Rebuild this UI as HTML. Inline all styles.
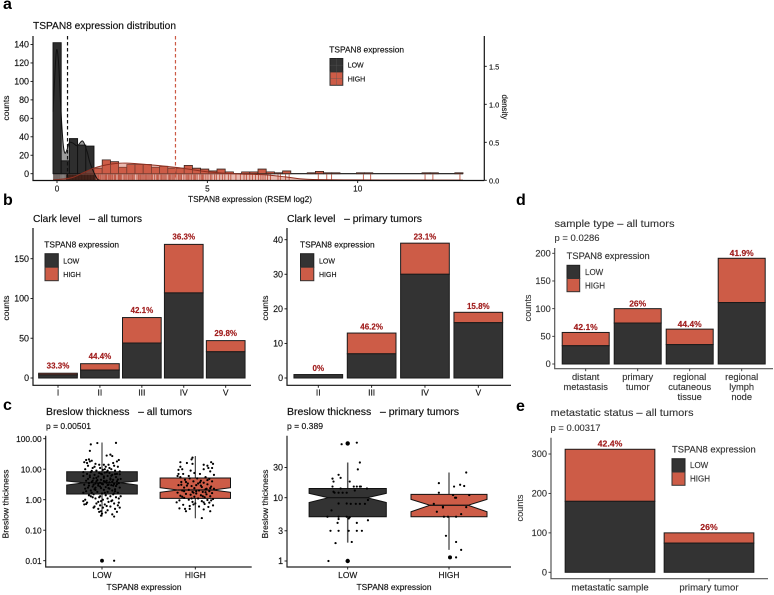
<!DOCTYPE html>
<html lang="en">
<head>
<meta charset="utf-8">
<title>TSPAN8 expression figure</title>
<style>
html,body{margin:0;padding:0;background:#fff;}
#chart{display:block;width:774px;height:595px;font-family:"Liberation Sans",sans-serif;fill:#111;}
.t{font-size:10.2px;fill:#111;stroke:#111;stroke-width:.18px;}
.s{font-size:8.4px;fill:#111;stroke:#111;stroke-width:.15px;}
.h{font-size:10.5px;fill:#333;stroke:#333;stroke-width:.12px;}
.hs{font-size:8.9px;fill:#333;stroke:#333;stroke-width:.1px;}
.letter{font-size:16px;font-weight:bold;fill:#000;}
</style>
</head>
<body>
<svg id="chart" xmlns="http://www.w3.org/2000/svg" width="774" height="595" viewBox="0 0 774 595">
<rect x="0" y="0" width="774" height="595" fill="#fff"/>
<text class="letter" x="3" y="9">a</text>
<text class="letter" x="3" y="205">b</text>
<text class="letter" x="3" y="410">c</text>
<text class="letter" x="516" y="205">d</text>
<text class="letter" x="516" y="411">e</text>

<text class="t" x="33" y="29" textLength="143" lengthAdjust="spacingAndGlyphs">TSPAN8 expression distribution</text>
<text class="s" transform="translate(9 108) rotate(-90)" text-anchor="middle" textLength="25" lengthAdjust="spacingAndGlyphs">counts</text>
<text class="s" transform="translate(502 107) rotate(90)" text-anchor="middle" textLength="25" lengthAdjust="spacingAndGlyphs">density</text>
<text class="s" x="188" y="202" textLength="124" lengthAdjust="spacingAndGlyphs">TSPAN8 expression (RSEM log2)</text>

<text class="t" x="33" y="222" textLength="109" lengthAdjust="spacingAndGlyphs" xml:space="preserve">Clark level   – all tumors</text>
<text class="s" transform="translate(9 308) rotate(-90)" text-anchor="middle" textLength="25" lengthAdjust="spacingAndGlyphs">counts</text>
<text class="t" x="287" y="222" textLength="135" lengthAdjust="spacingAndGlyphs" xml:space="preserve">Clark level   – primary tumors</text>
<text class="s" transform="translate(268 308) rotate(-90)" text-anchor="middle" textLength="25" lengthAdjust="spacingAndGlyphs">counts</text>

<text class="t" x="46" y="415" textLength="146" lengthAdjust="spacingAndGlyphs" xml:space="preserve">Breslow thickness   – all tumors</text>
<text class="s" x="46" y="429" textLength="45" lengthAdjust="spacingAndGlyphs">p = 0.00501</text>
<text class="s" transform="translate(8.5 504) rotate(-90)" text-anchor="middle" textLength="69" lengthAdjust="spacingAndGlyphs">Breslow thickness</text>
<text class="s" x="144" y="590" text-anchor="middle" textLength="75" lengthAdjust="spacingAndGlyphs">TSPAN8 expression</text>
<text class="t" x="287" y="415" textLength="172" lengthAdjust="spacingAndGlyphs" xml:space="preserve">Breslow thickness   – primary tumors</text>
<text class="s" x="287" y="429" textLength="36" lengthAdjust="spacingAndGlyphs">p = 0.389</text>
<text class="s" transform="translate(268 504) rotate(-90)" text-anchor="middle" textLength="69" lengthAdjust="spacingAndGlyphs">Breslow thickness</text>
<text class="s" x="394" y="590" text-anchor="middle" textLength="75" lengthAdjust="spacingAndGlyphs">TSPAN8 expression</text>

<text class="h" x="554.5" y="227" textLength="120" lengthAdjust="spacingAndGlyphs">sample type – all tumors</text>
<text class="hs" x="554.5" y="241" textLength="45" lengthAdjust="spacingAndGlyphs">p = 0.0286</text>
<text class="hs" transform="translate(531 308) rotate(-90)" text-anchor="middle" textLength="27" lengthAdjust="spacingAndGlyphs">counts</text>
<text class="h" x="550.5" y="416" textLength="143" lengthAdjust="spacingAndGlyphs">metastatic status – all tumors</text>
<text class="hs" x="550.5" y="431" textLength="50" lengthAdjust="spacingAndGlyphs">p = 0.00317</text>
<text class="hs" transform="translate(523 508) rotate(-90)" text-anchor="middle" textLength="27" lengthAdjust="spacingAndGlyphs">counts</text>
</svg>
<script>
/* ---------- histogram data (panel a) ---------- */
const histStart = -0.133;
const histBinWidth = 0.2727;
const histCountsLow = [142,14,38,31,30,0,0,0,0,0,0,0,0,0,0,0,0,0,0,0,0,0,0,0,0,0,0,0,0,0,0,0,0,0,0,0,0,0,0,0,0,0,0,0,0,0,0,0,0,0];
const histCountsHigh = [0,0,0,0,0,6,15,13,7,10,10,10,7,8,6,6,9,6,5,3,5,2,0,2,2,5,2,1,3,0,0,1,2.5,1,1,0,0,1,1,0,0,0,0,0,0,1,1,0,0,1];
const histXTicks = [0,5,10];
const histYTicks = [0,20,40,60,80,100,120,140];
const densityTicks = [0,0.5,1,1.5];
const densityTickLabels = ['0.0','0.5','1.0','1.5'];
const densityLowX = [-0.13,-0.05,0,0.06,0.12,0.2,0.26,0.33,0.41,0.53,0.675,0.855,1.0,1.1,1.32,1.43];
const densityLowY = [0.9,1.55,1.72,1.5,1.0,0.5,0.36,0.4,0.495,0.49,0.455,0.517,0.38,0.227,0.03,0];
const densityHighX = [-0.13,0.16,0.54,1.21,1.82,2.43,3.95,4.98,5.98,6.85,7.6,8.3,9.95,13.5];
const densityHighY = [0.005,0.015,0.04,0.158,0.214,0.224,0.17,0.113,0.085,0.074,0.045,0.013,0.005,0.002];
const medianLow = 0.35;
const medianHigh = 3.94;
const rugLow = [-0.12,-0.1,-0.08,-0.06,-0.04,-0.02,0,0.02,0.04,0.06,0.08,0.1,0.13,0.16,0.2,0.24,0.27,0.31,0.34,0.37,0.4,0.42,0.45,0.47,0.5,0.52,0.55,0.57,0.6,0.62,0.65,0.67,0.7,0.72,0.75,0.77,0.8,0.82,0.85,0.87,0.9,0.92,0.95,0.97,1,1.02,1.05,1.07,1.1,1.12,1.15,1.17,1.2,1.22,1.25,1.27];
const rugHigh = [1.31,1.35,1.38,1.4,1.44,1.47,1.52,1.56,1.6,1.63,1.66,1.71,1.75,1.78,1.82,1.85,1.9,1.93,1.96,2.03,2.05,2.08,2.11,2.14,2.2,2.25,2.29,2.33,2.38,2.42,2.46,2.5,2.53,2.57,2.66,2.71,2.75,2.78,2.82,2.86,2.9,2.94,2.98,3.02,3.06,3.1,3.14,3.18,3.24,3.3,3.34,3.37,3.43,3.47,3.5,3.55,3.59,3.63,3.7,3.74,3.77,3.82,3.86,3.9,3.96,4.03,4.06,4.1,4.14,4.22,4.29,4.33,4.37,4.42,4.47,4.53,4.57,4.61,4.66,4.75,4.8,4.84,4.88,4.95,5.02,5.1,5.15,5.24,5.3,5.41,5.5,5.58,5.7,5.78,5.95,6.1,6.22,6.3,6.41,6.5,6.6,6.7,6.78,6.85,6.92,7.0,7.1,7.35,7.43,7.6,7.72,8.69,8.97,9.13,10.19,10.43,12.24,12.5,13.4];

/* ---------- stacked bar data ---------- */
const clarkAllCats = ['I','II','III','IV','V'];
const clarkAllLow = [4,10,44,107,33];
const clarkAllTotal = [6,18,76,168,47];
const clarkAllPct = ['33.3%','44.4%','42.1%','36.3%','29.8%'];
const clarkAllTicks = [0,50,100,150];
const clarkPrimaryCats = ['II','III','IV','V'];
const clarkPrimaryLow = [1,7,30,16];
const clarkPrimaryTotal = [1,13,39,19];
const clarkPrimaryPct = ['0%','46.2%','23.1%','15.8%'];
const clarkPrimaryTicks = [0,10,20,30,40];
const sampleCats = ['distant|metastasis','primary|tumor','regional|cutaneous|tissue','regional|lymph|node'];
const sampleLow = [33,74,35,111];
const sampleTotal = [57,100,63,191];
const samplePct = ['42.1%','26%','44.4%','41.9%'];
const sampleTicks = [0,50,100,150,200];
const metaCats = ['metastatic sample','primary tumor'];
const metaLow = [180,74];
const metaTotal = [312,100];
const metaPct = ['42.4%','26%'];
const metaTicks = [0,100,200,300];

/* ---------- Breslow data: stats = whiskerLow,q1,notchLow,median,notchHigh,q3,whiskerHigh ---------- */
const boxCats = ['LOW','HIGH'];
const breslowAllTicks = [100,10,1,0.1,0.01];
const breslowAllTickLabels = ['100.00','10.00','1.00','0.10','0.01'];
const breslowPrimaryTicks = [30,10,3,1];
const breslowAllLowStats = [0.28,1.54,3.03,3.6,4.09,8.26,75];
const breslowAllHighStats = [0.246,1.11,1.75,2.08,2.47,5.13,27];
const breslowPrimaryLowStats = [1.95,5,8.4,10,11.7,14,36];
const breslowPrimaryHighStats = [1.5,5,6,7.6,9.4,11.3,25];
const breslowAllLowOutliers = [[0,0.01]];
const breslowAllHighOutliers = [];
const breslowPrimaryLowOutliers = [[0,72],[0,1]];
const breslowPrimaryHighOutliers = [[1,1.14]];
/* pairs: horizontal jitter (percent of category step), thickness */
const breslowAllLowPoints = [[13,0.01],[-12,65],[-5,72],[15,73],[-13,40],[9,30],[5,28],[-17,20],[-14,21],[-11,19],[11,27],[18,20],[-19,17],[-7,15],[2,14],[7,14],[13,13],[-15,13],[4,12],[17,12],[-10,11],[-2,11],[10,10],[-18,10],[1,9.5],[14,9],[-6,9],[19,8.5],[-12,8],[5,8],[-3,7.5],[8,7.5],[-16,7],[16,7],[0,6.8],[11,6.5],[-8,6.5],[-20,6],[6,6],[-4,5.8],[15,5.5],[-13,5.5],[2,5.2],[9,5],[-9,5],[20,4.8],[-1,4.5],[12,4.5],[-17,4.2],[5,4.2],[-6,4],[16,4],[3,3.9],[-11,3.8],[8,3.7],[-2,3.6],[18,3.5],[-14,3.5],[-7,3.4],[13,3.3],[1,3.2],[-19,3.1],[6,3],[10,3],[-4,2.9],[15,2.8],[-10,2.7],[4,2.6],[-15,2.5],[19,2.5],[-1,2.4],[8,2.3],[-8,2.2],[14,2.2],[2,2.1],[-12,2],[11,2],[-17,1.9],[6,1.8],[-5,1.8],[17,1.7],[-20,1.7],[0,1.6],[12,1.5],[-9,1.5],[4,1.4],[-14,1.4],[9,1.3],[20,1.3],[-3,1.2],[15,1.2],[-7,1.1],[6,1.1],[-18,1],[1,1],[11,0.95],[-1,0.9],[-20,0.9],[7,0.85],[18,0.8],[-16,0.8],[-6,0.75],[13,0.75],[3,0.7],[-19,0.7],[17,0.65],[-2,0.65],[9,0.6],[-8,0.6],[19,0.55],[1,0.55],[-4,0.5],[14,0.5],[6,0.45],[-1,0.42],[16,0.4],[-3,0.4],[4,0.38],[0,0.35],[11,0.33],[-1,0.3],[13,0.28],[-13,6.2],[3,7.8],[-9,3.1],[7,2.4],[-5,4.4],[10,6.1],[-11,1.7],[-2,1.3],[16,3.2],[5,3.6],[-15,4.8],[12,2.9],[-7,2.1],[2,4.1],[19,6.8],[-18,2.3],[9,4.6],[-4,3.3],[14,1.9],[-10,1.2],[-16,16],[-13,18],[-8,12],[3,10],[12,16],[16,18],[-20,8],[-3,14],[8,11],[-11,8.8],[14,6.9],[-6,5.2],[7,3.1],[-2,2.7],[3,1.7],[-12,1.3],[10,0.9],[-9,0.55],[5,0.62],[-4,0.85],[18,1.1],[-17,0.72],[13,1.6],[-1,7.1],[6,9],[-7,2.5],[11,3.9],[-14,2.9],[17,4.6],[0,3.3],[2,5.8],[-10,4.2]];
const breslowAllHighPoints = [[-3,24],[-4,21],[-16,17],[-9,16],[17,17],[-3,15],[19,15],[9,14],[13,13],[-16,12],[14,11],[18,11],[-14,10],[-18,9.5],[9,10],[-5,9],[16,8.5],[-1,7.5],[-13,7],[5,7],[20,6.5],[-19,6],[-16,5.5],[11,5.5],[-6,5],[2,5],[15,4.8],[-11,4.5],[6,4.2],[18,4],[-2,4],[-15,3.8],[9,3.6],[-8,3.4],[13,3.2],[1,3],[-18,3],[-4,2.8],[17,2.7],[7,2.6],[-12,2.5],[-1,2.4],[20,2.3],[11,2.2],[-7,2.1],[4,2],[-14,2],[15,1.9],[-3,1.8],[8,1.8],[-19,1.7],[18,1.65],[1,1.6],[-10,1.55],[12,1.5],[-5,1.45],[6,1.4],[-16,1.35],[16,1.3],[-1,1.25],[10,1.2],[-12,1.15],[3,1.1],[19,1.05],[-7,1],[13,0.98],[-17,0.95],[7,0.9],[-3,0.85],[-20,0.82],[15,0.8],[0,0.76],[10,0.72],[-13,0.68],[19,0.65],[-6,0.62],[4,0.6],[14,0.58],[-17,0.52],[-11,0.5],[-6,0.5],[9,0.48],[16,0.42],[-10,0.42],[7,0.25],[5,3.7],[-9,2.9],[12,2.3],[-2,1.7],[8,1.3],[-15,3.1],[-18,7],[13,4.4],[-7,6],[3,3.4],[11,1.75],[-12,1.9],[16,2.4],[-4,1.1],[6,2.9],[-10,3.8],[1,1.9],[17,0.95],[-14,1.25],[9,0.82],[-2,0.7]];
const breslowPrimaryLowPoints = [[-19,1],[-12,1.92],[4,2],[-17,3],[-9,3],[1,3],[9,3],[14,3],[-10,4],[-9,4.6],[9,4],[20,4.4],[-20,5],[-9,5],[-1,5],[1,4.7],[2,4.9],[-16,6.3],[-9,8.1],[-1,8.1],[3,8],[8,8],[12,8],[17,8],[20,9.2],[-14,12.4],[-13,12],[-9,12],[-5,12],[-1,12],[7,13],[-7,14],[-15,15],[6,15],[9,15],[12,15],[13,15],[19,14],[-15,20],[-14,18],[-9,23],[-7,20.6],[2,18],[10,28],[12,36],[-6,70],[9,74]];
const breslowPrimaryHighPoints = [[7,1.14],[12,1.5],[7,2],[-3,2.5],[-5,5],[-1,5],[7,5],[12,5.5],[-12,6],[-6,7],[-15,8],[17,7.1],[7,10],[4,11],[20,11],[-10,12],[5,15],[11,16],[15,15.3],[-10,17],[17,25],[6,10],[-6,7.2]];

/* ---------- helpers ---------- */
const svg = document.getElementById('chart');
const DARK = '#333333';
const RED = '#cd5c47';
const LABEL = '#a01c1c';
function mk(tag, attrs){
  const el = document.createElementNS('http://www.w3.org/2000/svg', tag);
  for (const k in attrs) el.setAttribute(k, attrs[k]);
  if (tag === 'text'){
    el.setAttribute('stroke', attrs.fill);
    el.setAttribute('stroke-width', 0.14);
  }
  svg.appendChild(el);
  return el;
}
function linear(d0, d1, r0, r1){ return v => r0 + (v - d0) * (r1 - r0) / (d1 - d0); }
function logScale(d0, d1, r0, r1){ return v => r0 + (Math.log10(v) - Math.log10(d0)) * (r1 - r0) / (Math.log10(d1) - Math.log10(d0)); }
function smooth(pts){
  let d = 'M' + pts[0][0] + ' ' + pts[0][1];
  for (let i = 0; i < pts.length - 1; i++){
    const p0 = pts[Math.max(i-1,0)], p1 = pts[i], p2 = pts[i+1], p3 = pts[Math.min(i+2,pts.length-1)];
    d += ' C' + (p1[0]+(p2[0]-p0[0])/6) + ' ' + (p1[1]+(p2[1]-p0[1])/6) + ' ' + (p2[0]-(p3[0]-p1[0])/6) + ' ' + (p2[1]-(p3[1]-p1[1])/6) + ' ' + p2[0] + ' ' + p2[1];
  }
  return d;
}
function drawAxisFrame(left, top, bottom, right, color){
  const axis = mk('path', {d:'M'+left+' '+top+' V'+bottom+' H'+right, fill:'none', stroke:color, 'stroke-width':1.2});
  
  
}
function drawYTicks(ticks, labels, y, left, color, size){
  ticks.forEach((t, i) => {
    const tick = mk('line', {x1:left-2.5, x2:left, y1:y(t), y2:y(t), stroke:color, 'stroke-width':0.9});
    
    
    const lab = mk('text', {x:left-4, y:y(t)+3.1, 'text-anchor':'end', 'font-size':size, fill:color});
    lab.textContent = labels ? labels[i] : String(t);
    
    
  });
}
function drawXTicks(cats, x, bottom, baseline, color, size, lineGap){
  cats.forEach((c, i) => {
    const cx = x(i);
    const tick = mk('line', {x1:cx, x2:cx, y1:bottom, y2:bottom+2.5, stroke:color, 'stroke-width':0.9});
    
    
    String(c).split('|').forEach((part, j) => {
      const lab = mk('text', {x:cx, y:baseline+j*lineGap, 'text-anchor':'middle', 'font-size':size, fill:color});
      lab.textContent = part;
      
      
    });
  });
}
function drawStack(cats, low, total, pct, x, y, barW, labelGap, labelSize){
  cats.forEach((c, i) => {
    const cx = x(i);
    const high = mk('rect', {x:cx-barW/2, y:y(total[i]), width:barW, height:y(low[i])-y(total[i]), fill:RED, stroke:'#1a1a1a', 'stroke-width':1});
    
    
    const lowBar = mk('rect', {x:cx-barW/2, y:y(low[i]), width:barW, height:y(0)-y(low[i]), fill:DARK, stroke:'#1a1a1a', 'stroke-width':1});
    
    
    const lab = mk('text', {x:cx, y:y(total[i])-labelGap, 'text-anchor':'middle', 'font-size':labelSize, 'font-weight':'bold', fill:LABEL});
    lab.textContent = pct[i];
    
    
  });
}
function drawLegend(tx, ty, tw, kx, ky, kw, kh, lx, l1, l2, color, size, cross){
  const title = mk('text', {x:tx, y:ty, 'font-size':size+1, fill:color, textLength:tw, lengthAdjust:'spacingAndGlyphs'});
  title.textContent = 'TSPAN8 expression';
  
  
  const lowKey = mk('rect', {x:kx, y:ky, width:kw, height:kh, fill:DARK, stroke:'#222', 'stroke-width':1});
  
  
  const highKey = mk('rect', {x:kx, y:ky+kh, width:kw, height:kh, fill:RED, stroke:'#333', 'stroke-width':1});
  
  
  if (cross){
    const c = mk('path', {d:'M'+(kx+kw/2)+' '+ky+' V'+(ky+2*kh)+' M'+kx+' '+(ky+kh/2)+' H'+(kx+kw)+' M'+kx+' '+(ky+1.5*kh)+' H'+(kx+kw), stroke:'#555', 'stroke-width':0.5, fill:'none', opacity:0.7});
    
    
  }
  const lowLab = mk('text', {x:lx, y:l1, 'font-size':size, fill:color});
  lowLab.textContent = 'LOW';
  
  
  const highLab = mk('text', {x:lx, y:l2, 'font-size':size, fill:color});
  highLab.textContent = 'HIGH';
  
  
}
function drawBox(cx, halfW, y, stats, fill, wColor, wWidth){
  const [wl,q1,nl,med,nh,q3,wh] = stats;
  const whisker = mk('line', {x1:cx, x2:cx, y1:y(wl), y2:y(wh), stroke:wColor, 'stroke-width':wWidth});
  
  
  const w = halfW/2;
  const d = 'M'+(cx-halfW)+' '+y(q1)+' V'+y(nl)+' L'+(cx-w)+' '+y(med)+' L'+(cx-halfW)+' '+y(nh)+' V'+y(q3)+' H'+(cx+halfW)+' V'+y(nh)+' L'+(cx+w)+' '+y(med)+' L'+(cx+halfW)+' '+y(nl)+' V'+y(q1)+' Z';
  const box = mk('path', {d:d, fill:fill, stroke:'#111', 'stroke-width':1});
  
  
  const medLine = mk('line', {x1:cx-w, x2:cx+w, y1:y(med), y2:y(med), stroke:'#111', 'stroke-width':1.2});
  
  
}
function drawPoints(points, cx, step, y, r){
  points.forEach(p => {
    const c = mk('circle', {cx:cx + p[0]/100*step, cy:y(p[1]), r:r, fill:'#000'});
    
    
  });
}

/* ---------- panel a ---------- */
(function(){
  const x = linear(0, 10, 57, 357.7);
  const y = linear(0, 140, 173.7, 44.5);
  const yd = linear(0, 1.5, 180.3, 66.3);
  const lowPts = densityLowX.map((v, i) => [x(v), yd(densityLowY[i])]);
  const highPts = densityHighX.map((v, i) => [x(v), yd(densityHighY[i])]);
  const lowLine = smooth(lowPts);
  const highLine = smooth(highPts);
  const lowFill = mk('path', {d:lowLine+' L'+x(densityLowX[densityLowX.length-1])+' '+yd(0)+' L'+x(densityLowX[0])+' '+yd(0)+' Z', fill:'#9a9a9a', stroke:'none'});
  
  
  const baseLine = mk('line', {x1:x(histStart), x2:x(histStart + histCountsLow.length*histBinWidth), y1:y(0), y2:y(0), stroke:'#111', 'stroke-width':1.1});
  
  
  histCountsLow.forEach((n, i) => {
    const x0 = x(histStart + i*histBinWidth), x1 = x(histStart + (i+1)*histBinWidth);
    const total = n + histCountsHigh[i];
    if (histCountsHigh[i] > 0){
      const hb = mk('path', {d:'M'+x0+' '+y(n)+' V'+y(total)+' H'+x1+' V'+y(n)+' Z', fill:RED, stroke:'#3a2620', 'stroke-width':0.8});
      
      
    }
    if (n > 0){
      const lb = mk('path', {d:'M'+x0+' '+y(0)+' V'+y(n)+' H'+x1+' V'+y(0)+' Z', fill:'#2e2e2e', stroke:'#111', 'stroke-width':0.9});
      
      
    }
  });
  const highFill = mk('path', {d:highLine+' L'+x(densityHighX[densityHighX.length-1])+' '+yd(0)+' L'+x(densityHighX[0])+' '+yd(0)+' Z', fill:RED, 'fill-opacity':0.42, stroke:'none'});
  
  
  rugLow.forEach(v => {
    const t = mk('line', {x1:x(v), x2:x(v), y1:174.5, y2:180, stroke:'#3a1c14', 'stroke-width':1, opacity:v > 0.3 ? 0.95 : 0.25});
    
    
  });
  rugHigh.forEach(v => {
    const t = mk('line', {x1:x(v), x2:x(v), y1:174.5, y2:180, stroke:'#bb4a36', 'stroke-width':1, opacity:0.85});
    
    
  });
  const ll = mk('path', {d:lowLine, fill:'none', stroke:'#111', 'stroke-width':1});
  
  
  const hl = mk('path', {d:highLine, fill:'none', stroke:'#8e2f20', 'stroke-width':1});
  
  
  const ml = mk('line', {x1:x(medianLow), x2:x(medianLow), y1:36, y2:180, stroke:'#111', 'stroke-width':1.2, 'stroke-dasharray':'3.5 2.5'});
  
  
  const mh = mk('line', {x1:x(medianHigh), x2:x(medianHigh), y1:36, y2:180, stroke:'#cc5a44', 'stroke-width':1.2, 'stroke-dasharray':'3.5 2.5'});
  
  
  drawAxisFrame(33, 36, 180.5, 484.3, '#111');
  const rAxis = mk('line', {x1:484.3, x2:484.3, y1:36, y2:180.5, stroke:'#111', 'stroke-width':1.2});
  
  
  drawYTicks(histYTicks, null, y, 33, '#111', 8.9);
  densityTicks.forEach((t, i) => {
    const tick = mk('line', {x1:484.3, x2:486.8, y1:yd(t), y2:yd(t), stroke:'#111', 'stroke-width':0.9});
    
    
    const lab = mk('text', {x:489, y:yd(t)+3, 'font-size':7.4, fill:'#111'});
    lab.textContent = densityTickLabels[i];
    
    
  });
  drawXTicks(histXTicks, i => x(histXTicks[i]), 180.5, 191.5, '#111', 8.2, 0);
  drawLegend(329.3, 52.3, 74.7, 330, 58.5, 12.8, 13.4, 347.7, 67.7, 81.7, '#111', 7, true);
})();

/* ---------- panel b left ---------- */
(function(){
  const x = linear(0, 4, 58, 225.7);
  const y = linear(0, 150, 378, 258.7);
  drawStack(clarkAllCats, clarkAllLow, clarkAllTotal, clarkAllPct, x, y, 38.7, 4.8, 8);
  drawAxisFrame(33, 228, 385.3, 251, '#111');
  drawYTicks(clarkAllTicks, null, y, 33, '#111', 8.9);
  drawXTicks(clarkAllCats, x, 385.3, 395.5, '#111', 8.5, 0);
  drawLegend(44.3, 247.7, 74.7, 45, 253.7, 13.3, 13.5, 63.3, 263.3, 277, '#111', 7, false);
})();

/* ---------- panel b right ---------- */
(function(){
  const x = linear(0, 3, 318.3, 478.3);
  const y = linear(0, 40, 378, 239.7);
  drawStack(clarkPrimaryCats, clarkPrimaryLow, clarkPrimaryTotal, clarkPrimaryPct, x, y, 48.7, 3.5, 8);
  drawAxisFrame(287, 228, 385.3, 511, '#111');
  drawYTicks(clarkPrimaryTicks, null, y, 287, '#111', 8.9);
  drawXTicks(clarkPrimaryCats, x, 385.3, 395.5, '#111', 8.5, 0);
  drawLegend(300, 247.7, 74.7, 300.5, 253.7, 13.3, 13.5, 319, 263.3, 277, '#111', 7, false);
})();

/* ---------- panel d ---------- */
(function(){
  const x = linear(0, 3, 585.7, 741.7);
  const y = linear(0, 200, 364, 253.3);
  drawStack(sampleCats, sampleLow, sampleTotal, samplePct, x, y, 47, 2.3, 8.5);
  drawAxisFrame(554.7, 248, 368.7, 773, '#555');
  drawYTicks(sampleTicks, null, y, 554.7, '#333', 9.2);
  drawXTicks(sampleCats, x, 368.7, 380, '#333', 9.3, 10);
  drawLegend(566.7, 259, 83, 567, 265.3, 12.7, 13.2, 585, 275, 288.7, '#333', 8, false);
})();

/* ---------- panel e ---------- */
(function(){
  const x = linear(0, 1, 610, 709);
  const y = linear(0, 300, 572.3, 454);
  drawStack(metaCats, metaLow, metaTotal, metaPct, x, y, 89.7, 3, 8.7);
  drawAxisFrame(551, 437.7, 578.7, 768, '#555');
  drawYTicks(metaTicks, null, y, 551, '#333', 9.2);
  drawXTicks(metaCats, x, 578.7, 590.3, '#333', 9.6, 0);
  drawLegend(672, 452.7, 83.7, 672, 458.7, 13, 13.3, 690, 468, 481.7, '#333', 8, false);
})();

/* ---------- panel c left ---------- */
(function(){
  const x = linear(0, 1, 102, 195.3);
  const y = logScale(1, 100, 499.7, 438.7);
  const step = x(1) - x(0);
  drawBox(x(0), 35.3, y, breslowAllLowStats, DARK, '#222', 1);
  drawBox(x(1), 35.2, y, breslowAllHighStats, RED, '#222', 1);
  drawPoints(breslowAllLowPoints, x(0), step, y, 1.1);
  drawPoints(breslowAllHighPoints, x(1), step, y, 1.1);
  drawPoints(breslowAllLowOutliers, x(0), step, y, 1.9);
  drawPoints(breslowAllHighOutliers, x(1), step, y, 1.9);
  drawAxisFrame(45.7, 435.7, 567, 251.7, '#222');
  drawYTicks(breslowAllTicks, breslowAllTickLabels, y, 45.7, '#111', 8.4);
  drawXTicks(boxCats, x, 567, 578, '#111', 8.4, 0);
})();

/* ---------- panel c right ---------- */
(function(){
  const x = linear(0, 1, 347.7, 449);
  const y = logScale(1, 10, 561, 497.7);
  const step = x(1) - x(0);
  drawBox(x(0), 38.6, y, breslowPrimaryLowStats, DARK, '#555', 1.5);
  drawBox(x(1), 38, y, breslowPrimaryHighStats, RED, '#111', 1);
  drawPoints(breslowPrimaryLowPoints, x(0), step, y, 1.1);
  drawPoints(breslowPrimaryHighPoints, x(1), step, y, 1.1);
  drawPoints(breslowPrimaryLowOutliers, x(0), step, y, 2.2);
  drawPoints(breslowPrimaryHighOutliers, x(1), step, y, 2);
  drawAxisFrame(287, 435.7, 567, 511, '#222');
  drawYTicks(breslowPrimaryTicks, null, y, 287, '#111', 8.9);
  drawXTicks(boxCats, x, 567, 578, '#111', 8.4, 0);
})();
</script>
</body>
</html>
